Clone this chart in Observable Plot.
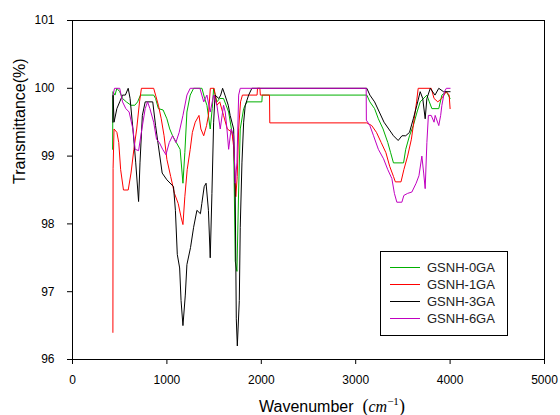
<!DOCTYPE html>
<html>
<head>
<meta charset="utf-8">
<script src="https://cdn.jsdelivr.net/npm/d3@7"></script>
<script src="https://cdn.jsdelivr.net/npm/@observablehq/plot@0.6"></script>
<style>
  html, body { margin: 0; padding: 0; background: white; }
  #chart { width: 560px; height: 415px; }
</style>
</head>
<body>
<div id="chart"></div>
<script>
// ---- data (wavenumber cm^-1, transmittance %) ----
const xTicks = [0, 1000, 2000, 3000, 4000, 5000];
const yTicks = [96, 97, 98, 99, 100, 101];
const seriesNames = ["GSNH-0GA", "GSNH-1GA", "GSNH-3GA", "GSNH-6GA"];
const seriesColors = ["#00b000", "#ff0000", "#000000", "#c000c0"];

const gsnh0 = [[425,99.1],[428,99.95],[450,99.9],[470,100],[500,99.95],[530,99.85],[570,99.8],[620,99.75],[660,99.75],[690,99.8],[720,99.9],[860,99.9],[880,99.85],[910,99.7],[960,99.68],[1000,99.55],[1030,99.4],[1060,99.3],[1100,99.2],[1140,99.1],[1170,98.6],[1190,99.05],[1212,99.65],[1247,99.9],[1283,100],[1371,100],[1400,99.85],[1424,99.75],[1459,99.4],[1480,99.7],[1495,100],[1530,99.8],[1560,99.85],[1600,99.85],[1654,99.65],[1707,99.2],[1724,97.45],[1742,97.3],[1760,98.5],[1777,99.4],[1813,99.7],[1848,99.8],[2006,99.8],[2010,99.9],[3118,99.9],[3150,99.8],[3200,99.7],[3240,99.55],[3290,99.4],[3340,99.2],[3370,99.05],[3400,98.9],[3507,98.9],[3530,99.1],[3570,99.3],[3610,99.45],[3650,99.65],[3683,99.8],[3754,99.9],[3780,99.8],[3807,99.7],[3880,99.7],[3913,99.9],[3960,99.95],[4000,99.85]];

const gsnh1 = [[428,96.4],[430,98.82],[440,99.4],[470,99.35],[490,99.2],[510,98.8],[540,98.5],[590,98.5],[620,98.75],[650,99.1],[680,99.4],[710,99.8],[730,100],[860,100],[880,99.9],[910,99.75],[940,99.55],[970,99.3],[1000,98.95],[1040,98.7],[1080,98.45],[1120,98.3],[1150,98.1],[1170,97.99],[1190,98.4],[1215,98.8],[1247,99.1],[1270,99.35],[1300,99.5],[1340,99.6],[1360,99.4],[1390,99.3],[1420,99.45],[1440,99.6],[1460,100],[1500,100],[1530,99.75],[1560,99.8],[1600,99.6],[1640,99.4],[1690,99.35],[1710,99.1],[1730,98.4],[1745,98.7],[1760,99.4],[1780,99.8],[1800,99.9],[1955,99.9],[1960,100],[1985,100],[1990,99.9],[2087,99.9],[2090,99.49],[3118,99.49],[3170,99.45],[3220,99.35],[3270,99.2],[3320,99.05],[3360,98.85],[3400,98.7],[3420,98.62],[3480,98.62],[3510,98.8],[3550,99.0],[3590,99.25],[3620,99.55],[3645,99.8],[3662,100],[3800,100],[3830,99.85],[3870,99.8],[3910,99.85],[3960,99.95],[3990,99.9],[4000,99.7]];

const gsnh3 = [[428,99.5],[430,99.9],[440,99.5],[470,99.7],[500,99.8],[530,99.9],[560,99.9],[590,100],[610,99.85],[640,99.4],[670,98.9],[700,98.33],[715,98.9],[740,99.6],[770,99.8],[850,99.8],[880,99.45],[910,99.15],[950,98.75],[1000,98.65],[1070,98.55],[1090,98.2],[1110,97.55],[1135,97.35],[1150,96.87],[1170,96.5],[1195,96.95],[1212,97.4],[1250,97.65],[1283,97.95],[1318,98.2],[1355,98.15],[1370,98.3],[1395,98.55],[1415,98.6],[1440,98.2],[1459,97.5],[1477,98.45],[1495,99.5],[1510,99.9],[1550,99.85],[1570,99.9],[1590,100],[1615,99.9],[1650,99.75],[1670,99.6],[1707,99.4],[1724,98.4],[1735,96.6],[1746,96.2],[1767,96.87],[1777,97.95],[1795,98.9],[1813,99.5],[1830,99.75],[1866,99.9],[1900,100],[3118,100],[3150,99.9],[3200,99.8],[3250,99.65],[3300,99.5],[3350,99.4],[3400,99.3],[3450,99.23],[3490,99.3],[3530,99.3],[3570,99.35],[3610,99.55],[3648,99.75],[3683,99.95],[3710,99.85],[3736,99.55],[3754,99.85],[3790,100],[3840,99.9],[3880,100],[3930,99.95],[4000,99.95]];

const gsnh6 = [[430,99.9],[445,100],[500,100],[515,99.9],[530,99.8],[565,99.7],[600,99.65],[640,99.4],[664,99.1],[700,99.08],[735,99.4],[770,99.7],[795,99.8],[820,99.7],[860,99.5],[890,99.25],[920,99.2],[955,99.1],[990,99.02],[1025,99.2],[1060,99.3],[1095,99.2],[1130,99.35],[1170,99.6],[1212,99.9],[1247,100],[1350,100],[1370,99.9],[1390,99.8],[1424,99.9],[1459,99.65],[1495,99.9],[1530,99.75],[1565,99.4],[1600,99.75],[1618,99.65],[1636,99.4],[1654,99.1],[1680,99.4],[1707,99.3],[1724,98.6],[1742,98.9],[1760,99.9],[1777,100],[3111,100],[3113,99.53],[3150,99.45],[3189,99.3],[3240,99.1],[3295,98.96],[3340,98.8],[3383,98.67],[3410,98.45],[3436,98.32],[3489,98.32],[3510,98.42],[3550,98.45],[3595,98.47],[3640,98.6],[3670,98.71],[3701,99.0],[3720,98.75],[3736,98.52],[3754,99.2],[3770,99.6],[3800,99.6],[3830,99.5],[3842,99.6],[3880,99.45],[3900,99.6],[3913,99.75],[3940,99.95],[3960,100],[4000,100]];

const seriesData = [gsnh0, gsnh1, gsnh3, gsnh6];

// ---- chart ----
const lineMarks = seriesData.map((s, i) =>
  Plot.line(s, {x: d => d[0], y: d => d[1], stroke: seriesColors[i], strokeWidth: 1})
);

const chart = Plot.plot({
  width: 560,
  height: 415,
  marginLeft: 72,
  marginRight: 16,
  marginTop: 20,
  marginBottom: 56,
  style: {fontFamily: "'Liberation Sans', Arial, sans-serif", fontSize: "12px", color: "black", background: "white"},
  x: {domain: [0, 5000]},
  y: {domain: [96, 101]},
  marks: [
    Plot.frame({stroke: "black", strokeWidth: 1}),
    Plot.axisX({ticks: xTicks, tickSize: 5, tickPadding: 11, tickFormat: d => String(d), label: null, fontSize: 12}),
    Plot.axisY({ticks: yTicks, tickSize: 5, tickPadding: 13, tickFormat: d => String(d), label: null, fontSize: 12}),
    ...lineMarks,
    Plot.text(["Transmittance(%)"], {text: d => d, frameAnchor: "left", dx: -53, dy: -6, rotate: -90, fontSize: 16})
  ]
});

document.getElementById("chart").appendChild(chart);

// x-axis title with italic unit and superscript
const svg = d3.select(chart);
const xt = svg.append("text")
  .attr("x", 259).attr("y", 412)
  .attr("text-anchor", "start")
  .attr("font-family", "'Liberation Sans', Arial, sans-serif")
  .attr("font-size", 16)
  .attr("fill", "black");
xt.append("tspan").text("Wavenumber ");
xt.append("tspan").attr("font-family", "'Liberation Serif', serif").attr("font-size", 18).text(" (");
xt.append("tspan").attr("font-family", "'Liberation Serif', serif").attr("font-style", "italic").attr("font-size", 16).text("cm");
xt.append("tspan").attr("font-family", "'Liberation Serif', serif").attr("font-size", 11).attr("dy", -7).text("−1");
xt.append("tspan").attr("font-family", "'Liberation Serif', serif").attr("font-size", 18).attr("dy", 7).text(")");

// legend
const lg = svg.append("g").attr("font-family", "'Liberation Sans', Arial, sans-serif").attr("font-size", 13).attr("text-anchor", "start");
lg.append("rect").attr("x", 380.5).attr("y", 251.5).attr("width", 127).attr("height", 84)
  .attr("fill", "white").attr("stroke", "black").attr("stroke-width", 1);
seriesNames.forEach((name, i) => {
  const yy = 267 + i * 17;
  lg.append("line").attr("x1", 390).attr("x2", 420).attr("y1", yy + 0.5).attr("y2", yy + 0.5)
    .attr("stroke", seriesColors[i]).attr("stroke-width", 1);
  lg.append("text").attr("x", 427).attr("y", yy).attr("dy", "0.35em").attr("text-anchor", "start").attr("fill", "#222").text(name);
});
</script>
</body>
</html>
